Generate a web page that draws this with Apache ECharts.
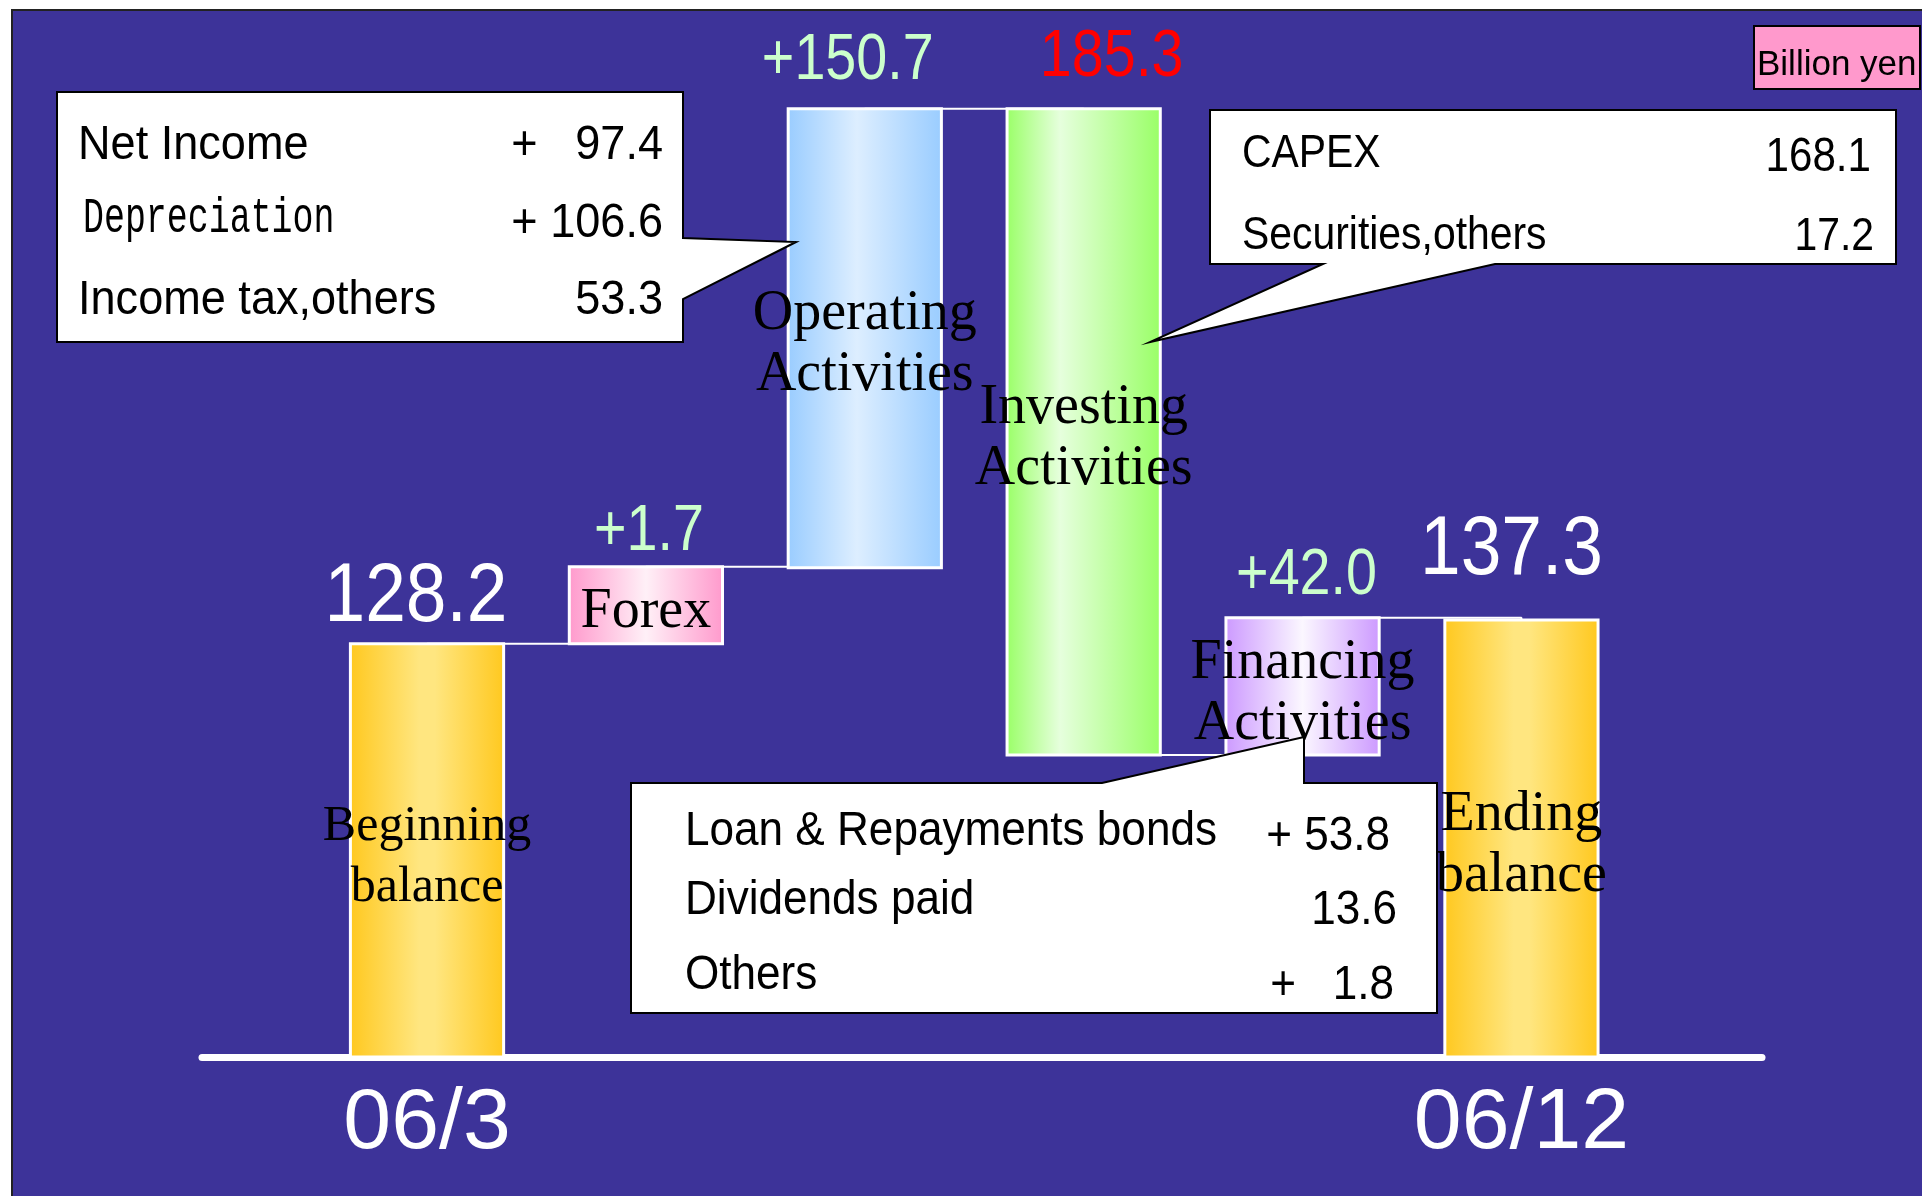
<!DOCTYPE html>
<html>
<head>
<meta charset="utf-8">
<title>Cash flow bridge</title>
<script src="https://cdn.jsdelivr.net/npm/echarts@6/dist/echarts.min.js"></script>
<style>
  html, body { margin: 0; padding: 0; background: #fff; }
  #panel {
    position: absolute; left: 11px; top: 9px; width: 1911px; height: 1187px;
    background: #3d3399; border-left: 2px solid #222; border-top: 2px solid #222; box-sizing: border-box;
  }
  #chart { position: absolute; left: 0; top: 0; width: 1922px; height: 1196px; }
</style>
</head>
<body>
<div id="panel"></div>
<div id="chart"></div>
<script>
// 现金流桥（单位 billion yen）
const steps = ['Beginning\nbalance', 'Forex', 'Operating\nActivities', 'Investing\nActivities', 'Financing\nActivities', 'Ending\nbalance']
const changes = [128.2, 1.7, 150.7, -185.3, 42.0, 137.3]
const valueText = ['128.2', '+1.7', '+150.7', '185.3', '+42.0', '137.3']
// 原图不是按比例画的（Forex 被放大了），柱子两端按图上读出来
const barLow = [0, 128.2, 151.8, 93.7, 93.7, 0]
const barHigh = [128.2, 152.1, 294.2, 294.2, 136.3, 135.6]
const dateLabels = ['06/3', '06/12']
const datePos = [0, 5]
const unitLabel = 'Billion yen'

// 说明框里的明细
const opItems = ['Net Income', 'Depreciation', 'Income tax,others']
const opValues = ['+   97.4', '+ 106.6', '53.3']
const invItems = ['CAPEX', 'Securities,others']
const invValues = ['168.1', '17.2']
const finItems = ['Loan & Repayments bonds', 'Dividends paid', 'Others']
const finValues = ['+ 53.8', '13.6', '+   1.8']

// 样式
const SANS = '"Liberation Sans", Arial, sans-serif'
const SERIF = '"Liberation Serif", "Times New Roman", serif'
const BAR_HALF = 0.35
const TEXT_NUDGE = 5 // middle 对齐时字形偏高一点
const barStops = [
  [[0, '#ffc81e'], [0.45, '#ffe680'], [0.55, '#ffe680'], [1, '#ffc81e']],
  [[0, '#ff99cc'], [0.5, '#fff0f7'], [1, '#ff99cc']],
  [[0, '#99ccff'], [0.45, '#ddeeff'], [1, '#99ccff']],
  [[0, '#99ff66'], [0.35, '#e6ffdd'], [1, '#99ff66']],
  [[0, '#cc99ff'], [0.5, '#fbf7ff'], [1, '#cc99ff']],
  [[0, '#ffc81e'], [0.45, '#ffe680'], [0.55, '#ffe680'], [1, '#ffc81e']]
]
const nameSize = [50, 56, 56, 56, 56, 56]
const valueColor = ['#ffffff', '#ccffcc', '#ccffcc', '#ff0000', '#ccffcc', '#ffffff']
const valueSize = [84, 64, 64, 66, 64, 84]
const labelDx = [-11, 3, -17, 28, 4, -10]
const labelDy = [46, 34, 47, 51, 41, 69]

const grad = (stops) => ({
  type: 'linear', x: 0, y: 0, x2: 1, y2: 0,
  colorStops: stops.map((s) => ({ offset: s[0], color: s[1] }))
})

// 连接线高度：正向取顶，负向取底
const linkLevel = steps.map((s, i) => (changes[i] >= 0 ? barHigh[i] : barLow[i]))

const chart = echarts.init(document.getElementById('chart'))

const txt = (x, y, text, opts) => ({
  type: 'text',
  x: x,
  y: y + TEXT_NUDGE,
  z: 101,
  scaleX: opts.scaleX || 1,
  scaleY: opts.scaleY || 1,
  style: {
    text: text,
    fill: opts.color || '#000',
    font: opts.font,
    align: opts.align || 'left',
    textAlign: opts.align || 'left',
    verticalAlign: 'middle',
    textVerticalAlign: 'middle'
  }
})

const callout = (points) => ({
  type: 'polygon',
  z: 100,
  shape: { points: points },
  style: { fill: '#fff', stroke: '#000', lineWidth: 2 }
})

const graphics = [
  // 单位
  { type: 'rect', z: 100, shape: { x: 1754, y: 26, width: 166, height: 63 }, style: { fill: '#ff99cc', stroke: '#000', lineWidth: 2 } },
  txt(1757, 60, unitLabel, { font: '35px ' + SANS }),

  // Operating 说明框
  callout([[57, 92], [683, 92], [683, 238], [796, 242], [683, 299], [683, 342], [57, 342]]),
  txt(78, 140, opItems[0], { font: '49px ' + SANS, scaleX: 0.92 }),
  txt(83, 214, opItems[1], { font: '36px "Liberation Mono", monospace', scaleX: 0.97, scaleY: 1.4 }),
  txt(78, 295, opItems[2], { font: '49px ' + SANS, scaleX: 0.92 }),
  txt(663, 140, opValues[0], { font: '49px ' + SANS, scaleX: 0.92, align: 'right' }),
  txt(663, 218, opValues[1], { font: '49px ' + SANS, scaleX: 0.92, align: 'right' }),
  txt(663, 295, opValues[2], { font: '49px ' + SANS, scaleX: 0.92, align: 'right' }),

  // Investing 说明框
  callout([[1210, 110], [1896, 110], [1896, 264], [1495, 264], [1150, 342], [1323, 264], [1210, 264]]),
  txt(1242, 149, invItems[0], { font: '47px ' + SANS, scaleX: 0.87 }),
  txt(1242, 231, invItems[1], { font: '47px ' + SANS, scaleX: 0.87 }),
  txt(1871, 152, invValues[0], { font: '49px ' + SANS, scaleX: 0.86, align: 'right' }),
  txt(1874, 232, invValues[1], { font: '47px ' + SANS, scaleX: 0.87, align: 'right' }),

  // Financing 说明框
  callout([[631, 783], [1102, 783], [1304, 737], [1304, 783], [1437, 783], [1437, 1013], [631, 1013]]),
  txt(685, 826, finItems[0], { font: '49px ' + SANS, scaleX: 0.9 }),
  txt(685, 895, finItems[1], { font: '49px ' + SANS, scaleX: 0.9 }),
  txt(685, 970, finItems[2], { font: '49px ' + SANS, scaleX: 0.9 }),
  txt(1390, 831, finValues[0], { font: '49px ' + SANS, scaleX: 0.9, align: 'right' }),
  txt(1397, 905, finValues[1], { font: '49px ' + SANS, scaleX: 0.9, align: 'right' }),
  txt(1394, 980, finValues[2], { font: '49px ' + SANS, scaleX: 0.9, align: 'right' })
]

chart.setOption({
  animation: false,
  grid: { left: 202, right: 160, top: 90, bottom: 139, outerBoundsMode: 'none' },
  xAxis: {
    type: 'value',
    min: -1.028,
    max: 6.099,
    splitLine: { show: false },
    axisTick: { show: false },
    axisLine: { show: true, lineStyle: { color: '#fff', width: 7 } },
    axisLabel: {
      customValues: datePos,
      formatter: (v) => dateLabels[datePos.indexOf(v)] || '',
      color: '#fff',
      fontSize: 86,
      fontFamily: SANS,
      margin: 24
    }
  },
  yAxis: { type: 'value', min: 0, max: 300, show: false },
  graphic: graphics,
  series: [
    {
      type: 'line',
      step: 'end',
      silent: true,
      symbol: 'none',
      z: 1,
      lineStyle: { color: '#fff', width: 2 },
      data: steps.map((s, i) => [i, linkLevel[i]])
    },
    {
      type: 'custom',
      z: 2,
      silent: true,
      data: steps.map((s, i) => [i, barLow[i], barHigh[i]]),
      renderItem: (params, api) => {
        const i = params.dataIndex
        const p0 = api.coord([api.value(0) - BAR_HALF, api.value(1)])
        const p1 = api.coord([api.value(0) + BAR_HALF, api.value(2)])
        const cx = (p0[0] + p1[0]) / 2
        return {
          type: 'group',
          children: [
            {
              type: 'rect',
              shape: { x: p0[0], y: p1[1], width: p1[0] - p0[0], height: p0[1] - p1[1] },
              style: { fill: grad(barStops[i]), stroke: '#fff', lineWidth: 3 }
            },
            {
              type: 'text',
              x: cx,
              y: (p0[1] + p1[1]) / 2 + 7,
              style: {
                text: steps[i],
                fill: '#000',
                font: nameSize[i] + 'px ' + SERIF,
                lineHeight: 61,
                align: 'center',
                textAlign: 'center',
                verticalAlign: 'middle',
                textVerticalAlign: 'middle'
              }
            },
            {
              type: 'text',
              x: cx + labelDx[i],
              y: p1[1] - labelDy[i],
              scaleX: 0.87,
              style: {
                text: valueText[i],
                fill: valueColor[i],
                font: valueSize[i] + 'px ' + SANS,
                align: 'center',
                textAlign: 'center',
                verticalAlign: 'middle',
                textVerticalAlign: 'middle'
              }
            }
          ]
        }
      }
    }
  ]
})
</script>
</body>
</html>
